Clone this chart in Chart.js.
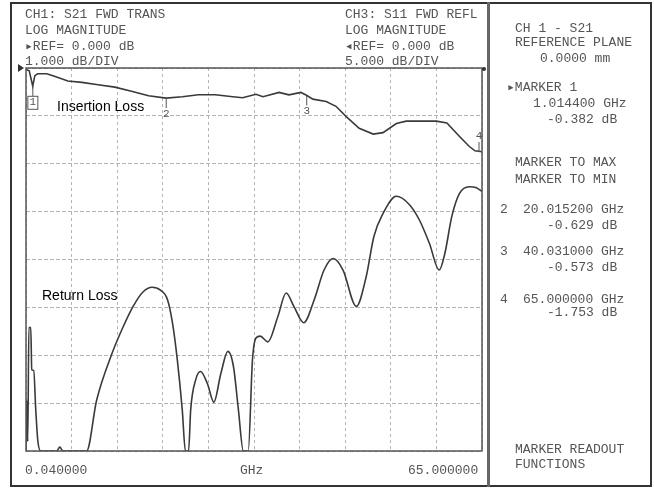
<!DOCTYPE html>
<html>
<head>
<meta charset="utf-8">
<script src="https://cdn.jsdelivr.net/npm/chart.js@4.4.1/dist/chart.umd.min.js"></script>
<style>
  body { margin: 0; width: 654px; height: 490px; background: #fff; position: relative; overflow: hidden; }
  #wrap { position: absolute; left: 0; top: 0; width: 654px; height: 490px; }
  #frame { position: absolute; left: 10px; top: 2px; width: 642px; height: 485px; border: 2px solid #333; box-sizing: border-box; }
  #sep { position: absolute; left: 487px; top: 2px; width: 3px; height: 485px; background: #666; }
  .t { position: absolute; font-family: "Liberation Mono", "DejaVu Sans Mono", monospace; font-size: 13px; line-height: 14px; color: #555; white-space: pre; }
  .lbl { position: absolute; font-family: "Liberation Sans", Arial, sans-serif; font-size: 14px; line-height: 16px; color: #000; }
</style>
</head>
<body>
<div id="frame"></div>
<div id="sep"></div>
<div id="wrap"><canvas id="vna"></canvas></div>

<div class="t" style="left:25px;top:8px">CH1: S21 FWD TRANS</div>
<div class="t" style="left:25px;top:24px">LOG MAGNITUDE</div>
<div class="t" style="left:25px;top:40px">&#9656;REF= 0.000 dB</div>
<div class="t" style="left:25px;top:55px">1.000 dB/DIV</div>

<div class="t" style="left:345px;top:8px">CH3: S11 FWD REFL</div>
<div class="t" style="left:345px;top:24px">LOG MAGNITUDE</div>
<div class="t" style="left:345px;top:40px">&#9666;REF= 0.000 dB</div>
<div class="t" style="left:345px;top:55px">5.000 dB/DIV</div>

<div class="t" style="left:515px;top:22px">CH 1 - S21</div>
<div class="t" style="left:515px;top:36px">REFERENCE PLANE</div>
<div class="t" style="left:540px;top:52px">0.0000 mm</div>
<div class="t" style="left:507px;top:81px">&#9656;MARKER 1</div>
<div class="t" style="left:533px;top:97px">1.014400 GHz</div>
<div class="t" style="left:547px;top:113px">-0.382 dB</div>
<div class="t" style="left:515px;top:156px">MARKER TO MAX</div>
<div class="t" style="left:515px;top:173px">MARKER TO MIN</div>
<div class="t" style="left:500px;top:203px">2</div>
<div class="t" style="left:523px;top:203px">20.015200 GHz</div>
<div class="t" style="left:547px;top:219px">-0.629 dB</div>
<div class="t" style="left:500px;top:245px">3</div>
<div class="t" style="left:523px;top:245px">40.031000 GHz</div>
<div class="t" style="left:547px;top:261px">-0.573 dB</div>
<div class="t" style="left:500px;top:293px">4</div>
<div class="t" style="left:523px;top:293px">65.000000 GHz</div>
<div class="t" style="left:547px;top:306px">-1.753 dB</div>
<div class="t" style="left:515px;top:443px">MARKER READOUT</div>
<div class="t" style="left:515px;top:458px">FUNCTIONS</div>

<div class="t" style="left:25px;top:464px">0.040000</div>
<div class="t" style="left:240px;top:464px">GHz</div>
<div class="t" style="left:408px;top:464px">65.000000</div>

<div class="lbl" style="left:57px;top:98px">Insertion Loss</div>
<div class="lbl" style="left:42px;top:287px">Return Loss</div>

<script>
// S21 trace (GHz / dB)
const s21Freq = [0.04, 0.5, 1.0, 1.3, 1.7, 3.0, 4.2, 6.0, 8.0, 10.3, 12.7, 15.2, 17.5, 20.0, 22.3, 24.6, 27.0, 29.5, 30.9, 32.8,
  33.8, 36.1, 37.5, 39.2, 40.0, 40.9, 42.8, 44.2, 45.7, 47.5, 49.5, 50.9, 52.8, 54.2, 58.5, 60.0, 61.8, 63.2, 64.0, 65.0];
const s21Db = [-0.03, -0.06, -0.38, -0.16, -0.12, -0.12, -0.18, -0.27, -0.30, -0.35, -0.40, -0.49, -0.58, -0.63, -0.60, -0.56, -0.56, -0.60, -0.62, -0.55,
  -0.60, -0.51, -0.56, -0.51, -0.57, -0.65, -0.70, -0.80, -1.02, -1.26, -1.38, -1.35, -1.16, -1.11, -1.11, -1.15, -1.43, -1.64, -1.73, -1.75];

// S11 trace, clipped at the bottom of the screen (-40 dB)
const s11Freq = [0.04, 0.14, 0.29, 0.45, 0.72, 0.86, 1.14, 1.43, 1.72, 2.15, 4.4, 4.86, 5.3, 8.68, 10.1, 12.3, 13.9, 15.3, 16.7, 18.0,
  19.2, 20.2, 20.9, 21.6, 22.3, 22.75, 23.2, 23.5, 24.2, 24.9, 25.9, 26.8, 27.8, 28.8, 29.6, 30.3, 31.0, 31.7, 32.3, 32.8,
  33.4, 34.5, 35.9, 37.1, 38.2, 39.6, 41.1, 42.5, 43.8, 45.2, 47.1, 48.5, 49.6, 50.9, 52.8, 54.7, 56.1, 57.5, 58.9, 59.7,
  60.7, 61.8, 63.2, 64.2, 65.0];
const s11Db = [-40, -34.7, -39, -27.1, -27.1, -31.5, -31.6, -35.7, -38.9, -40, -40, -39.6, -40, -40, -34.7, -29.8, -27.0, -24.9, -23.4, -22.9,
  -23.2, -24.2, -26.6, -30.5, -35.7, -40, -40, -35.7, -32.6, -31.7, -33.0, -34.9, -31.9, -29.6, -31.2, -35.7, -40, -40, -30.5, -28.2,
  -28.0, -28.6, -26.0, -23.5, -24.9, -26.6, -24.2, -21.1, -19.9, -21.1, -24.9, -21.8, -17.6, -15.2, -13.4, -14.3, -15.9, -18.3, -21.1, -19.4,
  -15.5, -13.1, -12.4, -12.5, -12.9];

// markers on CH1
const markerNames = ['1', '2', '3', '4'];
const markerFreq = [1.0144, 20.0152, 40.031, 65.0];
const markerDb = [-0.382, -0.629, -0.573, -1.753];

const startGHz = 0.04, stopGHz = 65.0;
const s21Top = 0, s21Bottom = -8;   // 1 dB/div
const s11Top = 0, s11Bottom = -40;  // 5 dB/div

const traceColor = '#3a3a3a';
const gridColor = '#b4b4b4';

// draws the screen frame, reference arrows and marker flags
const screenPlugin = {
  id: 'screen',
  afterDatasetsDraw(chart) {
    const { ctx, chartArea: a, scales } = chart;
    ctx.save();
    ctx.strokeStyle = '#555';
    ctx.lineWidth = 1.5;
    ctx.strokeRect(a.left, a.top, a.right - a.left, a.bottom - a.top);

    // reference level arrows
    const ry = scales.y.getPixelForValue(s21Top);
    ctx.fillStyle = '#333';
    ctx.beginPath();
    ctx.moveTo(a.left - 8, ry - 4); ctx.lineTo(a.left - 2, ry); ctx.lineTo(a.left - 8, ry + 4);
    ctx.fill();
    const ry2 = scales.y2.getPixelForValue(s11Top);
    ctx.beginPath();
    ctx.arc(a.right + 2, ry2 + 1, 2, 0, Math.PI * 2);
    ctx.fill();

    ctx.strokeStyle = '#555';
    ctx.fillStyle = '#555';
    ctx.lineWidth = 1;
    ctx.font = '11px "Liberation Mono", monospace';
    ctx.textAlign = 'center';
    ctx.textBaseline = 'middle';
    markerNames.forEach((name, i) => {
      const px = scales.x.getPixelForValue(markerFreq[i]);
      const py = scales.y.getPixelForValue(markerDb[i]);
      const up = i === markerNames.length - 1;
      const lx = up ? px - 3 : px;
      const tip = up ? py - 10 : py + 10;
      ctx.beginPath();
      ctx.moveTo(lx, py); ctx.lineTo(lx, tip);
      ctx.stroke();
      const ty = up ? tip - 6 : tip + 6;
      ctx.fillText(name, lx, ty);
      if (i === 0) ctx.strokeRect(lx - 5, tip, 10, 13);
    });
    ctx.restore();
  }
};

const xTicks = [];
for (let i = 0; i <= 10; i++) xTicks.push(startGHz + (stopGHz - startGHz) * i / 10);

new Chart(document.getElementById('vna').getContext('2d'), {
  type: 'line',
  data: {
    datasets: [
      {
        label: 'S21',
        data: s21Freq.map((f, i) => ({ x: f, y: s21Db[i] })),
        yAxisID: 'y',
        borderColor: traceColor,
        borderWidth: 1.6,
        pointRadius: 0,
        tension: 0
      },
      {
        label: 'S11',
        data: s11Freq.map((f, i) => ({ x: f, y: s11Db[i] })),
        yAxisID: 'y2',
        borderColor: traceColor,
        borderWidth: 1.6,
        pointRadius: 0,
        cubicInterpolationMode: 'monotone'
      }
    ]
  },
  options: {
    responsive: true,
    maintainAspectRatio: false,
    animation: false,
    layout: { padding: { left: 26, top: 68, right: 172, bottom: 39 } },
    plugins: { legend: { display: false }, tooltip: { enabled: false } },
    scales: {
      x: {
        type: 'linear',
        min: startGHz,
        max: stopGHz,
        afterBuildTicks: s => { s.ticks = xTicks.map(v => ({ value: v })); },
        afterFit: s => { s.height = 0; },
        ticks: { display: false },
        border: { display: false, dash: [3, 3] },
        grid: { color: gridColor, drawTicks: false }
      },
      y: {
        min: s21Bottom,
        max: s21Top,
        ticks: { display: false, stepSize: 1 },
        afterFit: s => { s.width = 0; },
        border: { display: false, dash: [4, 2] },
        grid: { color: gridColor, drawTicks: false }
      },
      y2: {
        display: false,
        min: s11Bottom,
        max: s11Top
      }
    }
  },
  plugins: [screenPlugin]
});
</script>
</body>
</html>
